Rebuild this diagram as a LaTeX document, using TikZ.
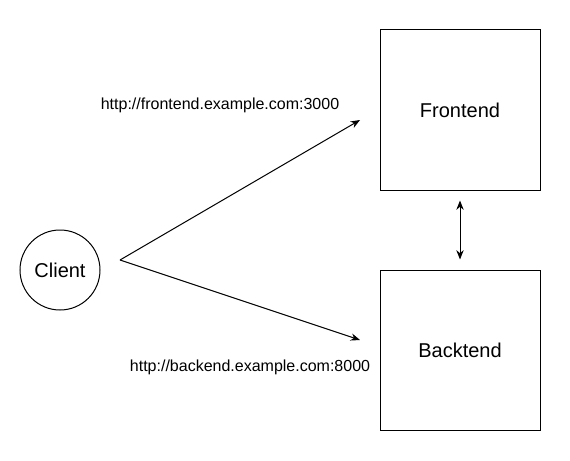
\documentclass[tikz,border=0pt]{standalone}
\usepackage{fontspec}
\setmainfont{Liberation Sans}
\usetikzlibrary{arrows.meta}

\tikzset{
  box/.style={draw, minimum size=120pt, inner sep=0pt, font=\fontsize{15}{18}\selectfont},
  tip/.style={-{Stealth[length=7pt,width=5.5pt]}},
  url/.style={font=\fontsize{12}{14}\selectfont, inner sep=0pt}
}

\begin{document}
\begin{tikzpicture}[x=0.75pt, y=-0.75pt, line width=0.75pt]
      \useasboundingbox (0,0) rectangle (570,460);
      \node[draw, circle, minimum size=60pt, inner sep=0pt, font=\fontsize{15}{18}\selectfont] (client) at (60,270) {Client};
      \node[box] (front) at (460,110) {Frontend};
      \node[box] (back) at (460,350) {Backtend};
      \coordinate (fork) at (120,260);
      \coordinate (tofront) at (360,120);
      \coordinate (toback) at (360,340);
      \draw[tip] (fork) -- (tofront);
      \draw[tip] (fork) -- (toback);
      \draw[{Stealth[length=7pt,width=5.5pt]}-{Stealth[length=7pt,width=5.5pt]}] ([yshift=-7.5pt]front.south) -- ([yshift=7.5pt]back.north);
      \node[url] (frontlbl) at (220,105) {http://frontend.example.com:3000};
      \node[url] (backlbl) at (250,367) {http://backend.example.com:8000};
    \end{tikzpicture}
\end{document}
